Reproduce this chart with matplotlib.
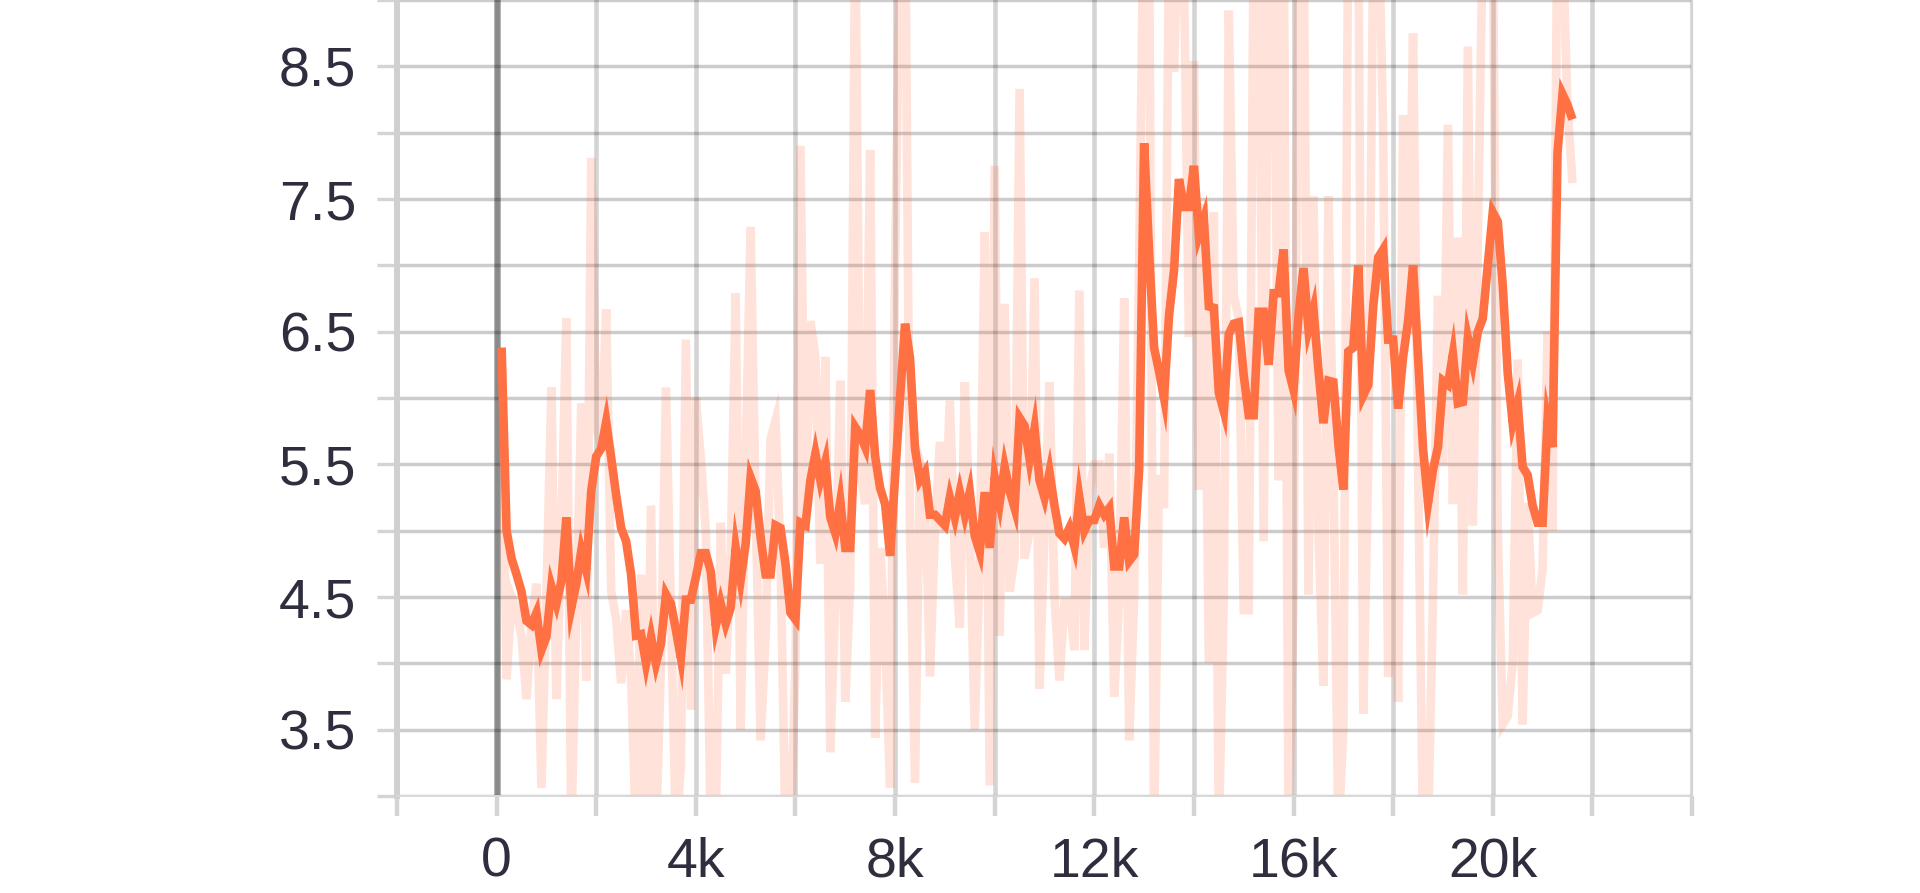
import matplotlib
matplotlib.use("Agg")
import matplotlib.pyplot as plt

# ---------------- data ----------------
steps = list(range(100, 21700, 100))

smoothed = [
    6.38, 5.00, 4.79, 4.67, 4.54, 4.32, 4.29, 4.38, 4.10, 4.20,
    4.58, 4.45, 4.62, 5.10, 4.42, 4.60, 4.85, 4.70, 5.30, 5.56,
    5.62, 5.82, 5.55, 5.27, 5.02, 4.92, 4.67, 4.21, 4.22, 4.00,
    4.20, 4.00, 4.15, 4.52, 4.45, 4.25, 4.04, 4.48, 4.48, 4.65,
    4.83, 4.83, 4.69, 4.28, 4.45, 4.30, 4.42, 4.87, 4.63, 4.90,
    5.40, 5.30, 4.95, 4.67, 4.67, 5.04, 5.02, 4.75, 4.38, 4.33,
    5.06, 5.04, 5.38, 5.58, 5.38, 5.52, 5.10, 4.98, 5.22, 4.87,
    4.87, 5.78, 5.72, 5.63, 6.06, 5.56, 5.32, 5.20, 4.81, 5.40,
    6.00, 6.56, 6.30, 5.62, 5.38, 5.44, 5.12, 5.12, 5.08, 5.04,
    5.25, 5.10, 5.29, 5.12, 5.29, 4.96, 4.84, 5.29, 4.87, 5.40,
    5.21, 5.48, 5.30, 5.17, 5.85, 5.79, 5.54, 5.77, 5.38, 5.25,
    5.44, 5.19, 4.98, 4.94, 5.02, 4.88, 5.25, 5.00, 5.08, 5.08,
    5.19, 5.12, 5.17, 4.73, 4.73, 5.10, 4.77, 4.82, 5.46, 7.92,
    7.10, 6.38, 6.20, 6.00, 6.62, 6.96, 7.65, 7.44, 7.44, 7.75,
    7.23, 7.35, 6.69, 6.68, 6.04, 5.90, 6.48, 6.56, 6.57, 6.17,
    5.87, 5.87, 6.65, 6.65, 6.25, 6.79, 6.79, 7.12, 6.21, 6.06,
    6.62, 6.98, 6.52, 6.67, 6.21, 5.81, 6.13, 6.12, 5.65, 5.31,
    6.35, 6.38, 7.00, 6.02, 6.10, 6.69, 7.06, 7.12, 6.44, 6.44,
    5.92, 6.31, 6.58, 7.00, 6.31, 5.62, 5.21, 5.46, 5.63, 6.13,
    6.10, 6.33, 5.96, 5.97, 6.45, 6.27, 6.50, 6.60, 7.00, 7.40,
    7.33, 6.85, 6.19, 5.81, 5.96, 5.48, 5.42, 5.19, 5.06, 5.06,
    5.83, 5.63, 7.85, 8.29, 8.21, 8.10,
]

raw = [
    6.38, 3.88, 4.50, 4.40, 4.20, 3.73, 4.30, 4.60, 3.06, 4.50,
    6.08, 3.73, 5.00, 6.60, 2.70, 4.40, 5.96, 3.87, 7.81, 5.80,
    5.60, 6.67, 4.54, 4.33, 3.85, 4.40, 3.90, 2.70, 4.67, 2.70,
    5.19, 2.70, 4.00, 6.08, 4.40, 2.70, 3.23, 6.44, 3.65, 6.00,
    5.54, 5.00, 2.70, 2.80, 5.06, 3.92, 4.80, 6.79, 3.50, 5.50,
    7.29, 5.20, 3.42, 4.20, 5.69, 5.83, 4.80, 2.70, 2.70, 4.00,
    7.90, 5.00, 6.58, 6.31, 4.75, 6.31, 3.33, 4.50, 6.13, 3.71,
    4.60, 9.60, 5.46, 5.20, 7.87, 3.44, 4.87, 4.20, 3.06, 7.00,
    9.50, 9.80, 5.00, 3.10, 5.52, 5.40, 3.90, 5.00, 5.67, 5.00,
    5.98, 4.80, 4.27, 6.12, 5.00, 3.50, 4.80, 7.25, 3.08, 7.75,
    4.21, 6.71, 4.54, 4.80, 8.33, 4.79, 5.00, 6.90, 3.81, 5.00,
    6.12, 4.50, 3.87, 4.46, 4.46, 4.10, 6.81, 4.10, 5.30, 5.50,
    5.50, 4.87, 5.58, 3.75, 4.50, 6.75, 3.42, 4.50, 7.00, 10.0,
    9.50, 2.70, 5.42, 5.17, 9.50, 8.46, 9.80, 9.20, 6.46, 8.54,
    5.31, 7.46, 4.00, 7.40, 2.70, 4.50, 8.92, 6.77, 6.60, 4.40,
    4.40, 9.50, 9.80, 4.92, 9.40, 9.60, 5.38, 9.80, 2.70, 4.50,
    9.50, 9.70, 4.52, 7.52, 5.00, 3.83, 7.52, 5.50, 2.70, 3.50,
    9.80, 9.00, 9.60, 3.62, 5.50, 9.40, 9.80, 8.00, 3.90, 5.50,
    3.71, 8.13, 6.50, 8.75, 5.50, 2.70, 2.70, 4.50, 6.77, 5.50,
    8.06, 5.20, 7.21, 4.52, 8.65, 5.04, 7.19, 9.50, 9.80, 9.60,
    5.00, 3.54, 3.60, 4.00, 6.29, 3.54, 5.21, 4.38, 4.40, 4.71,
    6.50, 5.00, 9.80, 9.50, 8.20, 7.62,
]

x_ticks = list(range(-2000, 24001, 2000))
x_labeled = {0: "0", 4000: "4k", 8000: "8k", 12000: "12k", 16000: "16k", 20000: "20k"}
y_major = [3.5, 4.5, 5.5, 6.5, 7.5, 8.5]
y_minor = [3.0, 4.0, 5.0, 6.0, 7.0, 8.0, 9.0]

# ---------------- style ----------------
LINE = "#ff7043"
TEXT = "#2e2e3e"
plt.rcParams["font.family"] = ["Liberation Sans", "DejaVu Sans"]

fig = plt.figure(figsize=(19.2, 8.93), dpi=100)
ax = fig.add_axes([397 / 1920, 97 / 893, (1692 - 397) / 1920, 796 / 893])
ax.set_xlim(-2000, 24000)
ax.set_ylim(3, 9)

ax.set_xticks(x_ticks)
ax.set_xticklabels([x_labeled.get(t, "") for t in x_ticks])
ax.set_yticks(y_major)
ax.set_yticklabels([f"{v:.1f}" for v in y_major])
ax.set_yticks(y_minor, minor=True)

ax.grid(axis="y", which="both", color="black", alpha=0.2, linewidth=2.5, zorder=0)
ax.grid(axis="x", which="major", color="black", alpha=0.17, linewidth=3.3, zorder=0)
ax.axvline(0, color="#a6a6a6", linewidth=4.8, zorder=1)

ax.tick_params(axis="x", which="major", length=14.4, width=3.2, color="#d4d4d4",
               pad=15, labelsize=40, labelcolor=TEXT)
ax.tick_params(axis="y", which="both", length=14.4, width=2.4, color="#d4d4d4",
               pad=15, labelsize=40, labelcolor=TEXT)

ax.spines["top"].set_visible(False)
ax.spines["left"].set_color("#d0d0d0")
ax.spines["left"].set_linewidth(4.3)
ax.spines["bottom"].set_color("#d8d8d8")
ax.spines["bottom"].set_linewidth(1.4)
ax.spines["right"].set_color("#d4d4d4")
ax.spines["right"].set_linewidth(1.6)

ax.plot(steps, raw, color=LINE, alpha=0.2, linewidth=6.2,
        solid_joinstyle="miter", solid_capstyle="butt", zorder=2)
ax.plot(steps, smoothed, color=LINE, linewidth=6.2,
        solid_joinstyle="miter", solid_capstyle="butt", zorder=3)

fig.savefig("out.png", dpi=100)
